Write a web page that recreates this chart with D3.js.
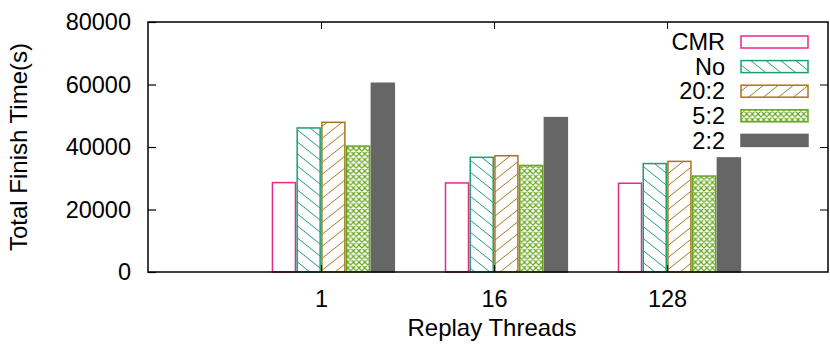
<!DOCTYPE html>
<html><head><meta charset="utf-8">
<script src="https://cdn.jsdelivr.net/npm/d3@7"></script>
<style>body{margin:0;background:#fff}svg{display:block}text{font-family:"Liberation Sans",Arial,sans-serif;fill:#000}</style>
</head><body><svg id="c" width="830" height="346"></svg>
<script>
const categories = ["1", "16", "128"];
const seriesNames = ["CMR", "No", "20:2", "5:2", "2:2"];
const cmr = [28600, 28500, 28400];
const no = [46100, 36700, 34700];
const r20_2 = [47900, 37200, 35400];
const r5_2 = [40300, 34100, 30700];
const r2_2 = [60400, 49400, 36500];
const yTicks = [0, 20000, 40000, 60000, 80000];
const colors = ["#e7298a", "#1b9e77", "#a6761d", "#66a61e", "#666666"];
const fills = ["none", "url(#pBack)", "url(#pFwd)", "url(#pCross)", "#666666"];
const values = [cmr, no, r20_2, r5_2, r2_2];

const svg = d3.select("#c");
const L = 148, R = 828, T = 22, B = 272;
const x = d3.scaleLinear().domain([0, 3.93]).range([L, R]);
const y = d3.scaleLinear().domain([0, 80000]).range([B, T]);
const slot = 1 / 7, bw = 0.93 * slot;
const FS = 23.5, TS = 24;

// patterns
const defs = svg.append("defs");
const w = 15, h = 12;
const pb = defs.append("pattern").attr("id", "pBack").attr("patternUnits", "userSpaceOnUse").attr("width", w).attr("height", h);
pb.append("path").attr("d", `M${-w},${-h}L${2*w},${2*h}M0,${-h}L${2*w},${h}M${-w},0L${w},${2*h}`).attr("stroke", colors[1]).attr("stroke-width", 1).attr("fill", "none");
const pf = defs.append("pattern").attr("id", "pFwd").attr("patternUnits", "userSpaceOnUse").attr("width", w).attr("height", h);
pf.append("path").attr("d", `M${-w},${2*h}L${2*w},${-h}M0,${2*h}L${2*w},0M${-w},${h}L${w},${-h}`).attr("stroke", colors[2]).attr("stroke-width", 1).attr("fill", "none");
const c = 5.7;
const pc = defs.append("pattern").attr("id", "pCross").attr("patternUnits", "userSpaceOnUse").attr("width", c).attr("height", c);
pc.append("path").attr("d", `M${-c},${-c}L${2*c},${2*c}M0,${-c}L${2*c},${c}M${-c},0L${c},${2*c}M${-c},${2*c}L${2*c},${-c}M0,${2*c}L${2*c},0M${-c},${c}L${c},${-c}`).attr("stroke", colors[3]).attr("stroke-width", 1.2).attr("fill", "none");

// bars
seriesNames.forEach((s, i) => {
  svg.append("g").selectAll("rect").data(values[i]).join("rect")
    .attr("x", (d, j) => x(j + 1 + (i - 1.5) * slot - bw / 2))
    .attr("width", x(bw) - x(0))
    .attr("y", d => y(d))
    .attr("height", d => y(0) - y(d))
    .attr("fill", fills[i] === "none" ? "#fff" : fills[i])
    .attr("stroke", colors[i])
    .attr("stroke-width", 1.5);
});

// frame
svg.append("rect").attr("x", L).attr("y", T).attr("width", R - L).attr("height", B - T)
  .attr("fill", "none").attr("stroke", "#000").attr("stroke-width", 1.5);

// y axis
const yAx = svg.append("g").attr("transform", `translate(${L},0)`)
  .call(d3.axisLeft(y).tickValues(yTicks).tickSize(-8).tickPadding(17).tickFormat(d3.format("d")));
yAx.select(".domain").remove();
yAx.selectAll("line").attr("stroke-width", 1.2);
yAx.selectAll("text").attr("font-size", FS).attr("font-family", "Liberation Sans, Arial, sans-serif");
const yAxR = svg.append("g").attr("transform", `translate(${R},0)`)
  .call(d3.axisRight(y).tickValues(yTicks.slice(1, 4)).tickSize(-8).tickFormat(""));
yAxR.select(".domain").remove();

// x axis
const xAx = svg.append("g").attr("transform", `translate(0,${B})`)
  .call(d3.axisBottom(x).tickValues([1, 2, 3]).tickSize(-7).tickPadding(18).tickFormat((d, i) => categories[i]));
xAx.select(".domain").remove();
xAx.selectAll("text").attr("font-size", FS).attr("font-family", "Liberation Sans, Arial, sans-serif");
const xAxT = svg.append("g").attr("transform", `translate(0,${T})`)
  .call(d3.axisTop(x).tickValues([1, 2, 3]).tickSize(-7).tickFormat(""));
xAxT.select(".domain").remove();

// axis titles
svg.append("text").attr("x", 492).attr("y", 336).attr("text-anchor", "middle")
  .attr("font-size", TS).text("Replay Threads");
svg.append("text").attr("transform", `translate(27,${(T + B) / 2}) rotate(-90)`).attr("text-anchor", "middle")
  .attr("font-size", TS).text("Total Finish Time(s)");

// legend
const lg = svg.append("g");
seriesNames.forEach((s, i) => {
  const cy = 42 + i * 24.6;
  lg.append("text").attr("x", 725).attr("y", cy).attr("dy", "0.35em").attr("text-anchor", "end")
    .attr("font-size", FS).text(s);
  lg.append("rect").attr("x", 741).attr("y", cy - 6).attr("width", 67).attr("height", 12)
    .attr("fill", fills[i] === "none" ? "#fff" : fills[i]).attr("stroke", colors[i]).attr("stroke-width", 1.5);
});
</script></body></html>
